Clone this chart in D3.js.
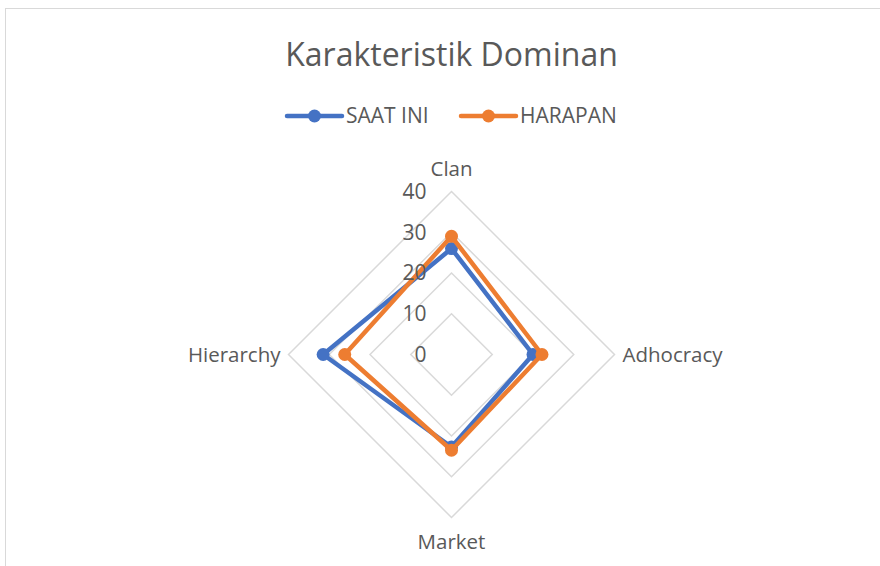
<!DOCTYPE html>
<html>
<head>
<meta charset="utf-8">
<script src="https://cdn.jsdelivr.net/npm/d3@7"></script>
<style>
  body { margin: 0; background: #fff; }
  svg { display: block; font-family: "Open Sans", sans-serif; }
</style>
</head>
<body>
<div id="chart"></div>
<script>
const categories = ["Clan", "Adhocracy", "Market", "Hierarchy"];
const saatIni = [26, 20, 22.7, 31.5];
const harapan = [29, 22.2, 23.5, 26.2];
const seriesNames = ["SAAT INI", "HARAPAN"];
const ticks = [0, 10, 20, 30, 40];

const width = 880, height = 566;
const cx = 451.5, cy = 354.5, radius = 163;
const colors = ["#4472C4", "#ED7D31"];
const textColor = "#595959";

const svg = d3.select("#chart").append("svg")
  .attr("width", width).attr("height", height);

// chart frame (only top/left visible)
svg.append("rect")
  .attr("x", 5.5).attr("y", 8.5)
  .attr("width", 900).attr("height", 600)
  .attr("fill", "none").attr("stroke", "#d9d9d9").attr("stroke-width", 1);

const r = d3.scaleLinear().domain([0, 40]).range([0, radius]);
const angle = i => (i / categories.length) * 2 * Math.PI;
const point = (i, v) => [cx + r(v) * Math.sin(angle(i)), cy - r(v) * Math.cos(angle(i))];

const g = svg.append("g");

// grid rings
ticks.filter(t => t > 0).forEach(t => {
  g.append("polygon")
    .attr("points", categories.map((c, i) => point(i, t).join(",")).join(" "))
    .attr("fill", "none").attr("stroke", "#d9d9d9").attr("stroke-width", 1.5);
});

// series
const series = [saatIni, harapan];
series.forEach((vals, s) => {
  const pts = vals.map((v, i) => point(i, v));
  g.append("path")
    .attr("d", d3.line().curve(d3.curveLinearClosed)(pts))
    .attr("fill", "none").attr("stroke", colors[s])
    .attr("stroke-width", 4.5).attr("stroke-linejoin", "round");
  g.selectAll(null).data(pts).enter().append("circle")
    .attr("cx", d => d[0]).attr("cy", d => d[1]).attr("r", 6.5)
    .attr("fill", colors[s]);
});

// tick labels
g.selectAll(".tick-label").data(ticks).enter().append("text")
  .attr("class", "tick-label")
  .attr("x", cx - 25).attr("y", d => cy - r(d))
  .attr("dy", "0.35em").attr("text-anchor", "end")
  .attr("font-size", 21).attr("fill", textColor)
  .text(d => d);

// category labels
const labelPos = [
  { x: cx, y: cy - radius - 23, anchor: "middle" },
  { x: cx + radius + 8, y: cy, anchor: "start" },
  { x: cx, y: cy + radius + 24, anchor: "middle" },
  { x: cx - radius - 8, y: cy, anchor: "end" }
];
g.selectAll(".cat-label").data(categories).enter().append("text")
  .attr("class", "cat-label")
  .attr("x", (d, i) => labelPos[i].x).attr("y", (d, i) => labelPos[i].y)
  .attr("dy", "0.35em").attr("text-anchor", (d, i) => labelPos[i].anchor)
  .attr("font-size", 20.5).attr("fill", textColor)
  .text(d => d);

// title
svg.append("text")
  .attr("x", cx).attr("y", 55).attr("dy", "0.35em")
  .attr("text-anchor", "middle").attr("font-size", 32).attr("fill", textColor)
  .text("Karakteristik Dominan");

// legend
const legendX = [287, 461];
seriesNames.forEach((name, s) => {
  const lg = svg.append("g").attr("transform", `translate(${legendX[s]},116)`);
  lg.append("line").attr("x1", 0).attr("x2", 55).attr("y1", 0).attr("y2", 0)
    .attr("stroke", colors[s]).attr("stroke-width", 4.5).attr("stroke-linecap", "round");
  lg.append("circle").attr("cx", 27.5).attr("cy", 0).attr("r", 6.5).attr("fill", colors[s]);
  lg.append("text").attr("x", 59).attr("y", 0).attr("dy", "0.35em")
    .attr("font-size", 21).attr("fill", textColor).text(name);
});
</script>
</body>
</html>
